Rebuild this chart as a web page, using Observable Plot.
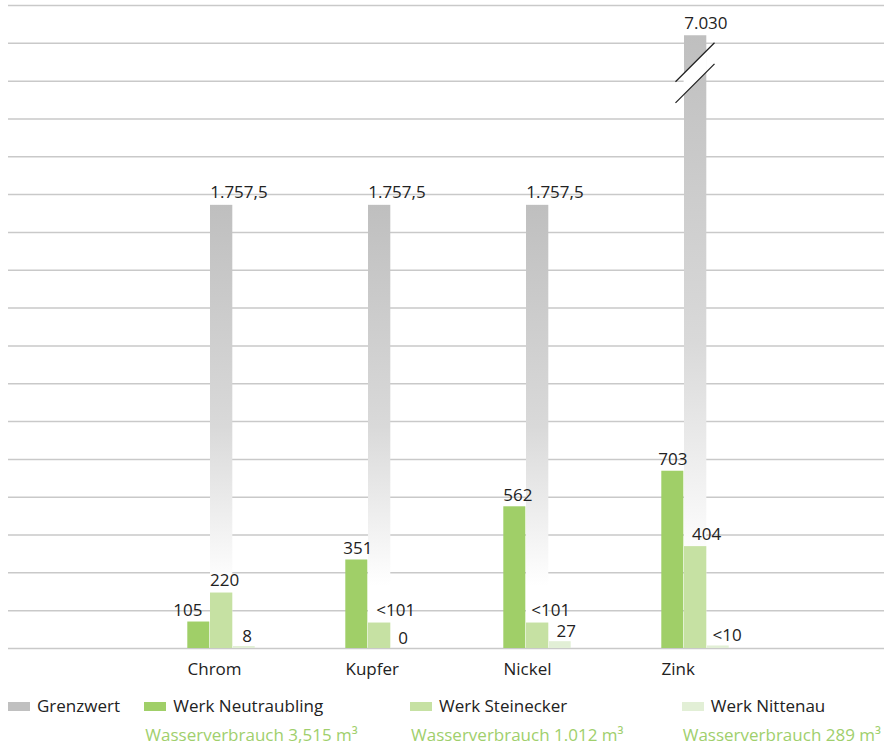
<!DOCTYPE html>
<html><head><meta charset="utf-8">
<script src="https://cdn.jsdelivr.net/npm/d3@7"></script>
<script src="https://cdn.jsdelivr.net/npm/@observablehq/plot@0.6"></script>
<style>
body{margin:0;background:#fff;font-family:"Open Sans",sans-serif;}
#wrap{position:relative;width:884px;height:746px;overflow:hidden;}
#wrap svg{position:absolute;left:0;top:0;}
.lg{position:absolute;font-size:17px;line-height:20px;color:#222;white-space:nowrap;}
.sw{position:absolute;width:22px;height:9px;}
.sub{color:#a0cf6c;}
</style></head><body><div id="wrap"></div>
<script>
// ---- data ----
const categories = ["Chrom", "Kupfer", "Nickel", "Zink"];
const series = ["Grenzwert", "Werk Neutraubling", "Werk Steinecker", "Werk Nittenau"];
const grenzwert = [1757.5, 1757.5, 1757.5, 7030];
const grenzwertLabels = ["1.757,5", "1.757,5", "1.757,5", "7.030"];
const neutraubling = [105, 351, 562, 703];
const neutraublingLabels = ["105", "351", "562", "703"];
const steinecker = [220, 101, 101, 404];
const steineckerLabels = ["220", "<101", "<101", "404"];
const nittenau = [8, 0, 27, 10];
const nittenauLabels = ["8", "0", "27", "<10"];
const consumption = ["", "Wasserverbrauch 3,515 m³", "Wasserverbrauch 1.012 m³", "Wasserverbrauch 289 m³"];
const yMax = 2550, yStep = 150;
const axisBreakCap = 2430;           // Grenzwert above this is drawn broken
const breakLines = [2239, 2323];     // y values of the two break strokes

// ---- styles ----
const colors = {"Grenzwert": "#c0c0c0", "Werk Neutraubling": "#a0cf68", "Werk Steinecker": "#c6e1a3", "Werk Nittenau": "#e2efd6"};
const slotInsets = {"Werk Neutraubling": [45.3, 90.7], "Grenzwert": [68, 67.7], "Werk Steinecker": [68, 67.7], "Werk Nittenau": [91, 45.3]};
const slotCenter = {"Werk Neutraubling": -22.7, "Grenzwert": 0.2, "Werk Steinecker": 0.2, "Werk Nittenau": 22.7};
const labelLift = {"Werk Neutraubling": -6, "Werk Steinecker": -7, "Werk Nittenau": -4.5};
const labelNudge = {
  "Werk Neutraubling": [-11, 1, 3, 0],
  "Werk Steinecker": [3, 16, 13, 11],
  "Werk Nittenau": [3, 1, 6, 9]
};

function rowsFor(name, vals, labels) {
  return categories.map((c, i) => ({cat: c, idx: i, series: name, value: vals[i], label: labels[i]}));
}
const gwRows = rowsFor("Grenzwert", grenzwert, grenzwertLabels);
const nRows = rowsFor("Werk Neutraubling", neutraubling, neutraublingLabels);
const sRows = rowsFor("Werk Steinecker", steinecker, steineckerLabels);
const ttRows = rowsFor("Werk Nittenau", nittenau, nittenauLabels);

const textStyle = {fontFamily: "Open Sans", fontSize: 17, fill: "#222"};

function seriesBars(rows, fill) {
  const [l, r] = slotInsets[rows[0].series];
  return Plot.barY(rows, {x: "cat", y: d => Math.min(d.value, axisBreakCap), fill, insetLeft: l, insetRight: r});
}
function seriesLabels(rows) {
  const name = rows[0].series;
  return rows.map(d => Plot.text([d], {
    x: "cat", y: "value", text: "label", lineAnchor: "bottom", dy: labelLift[name],
    dx: slotCenter[name] + labelNudge[name][d.idx], ...textStyle
  }));
}

const chart = Plot.plot({
  width: 884, height: 685,
  marginTop: 5, marginBottom: 37, marginLeft: 8, marginRight: 0,
  x: {type: "band", domain: categories, range: [140.67, 775.33], padding: 0, axis: null},
  y: {domain: [0, yMax], axis: null},
  marks: [
    Plot.ruleY(d3.range(0, yMax + 1, yStep), {stroke: "#c9c9c9", strokeWidth: 1.5}),
    seriesBars(gwRows, "url(#gwGrad)"),
    seriesBars(nRows, colors["Werk Neutraubling"]),
    seriesBars(sRows, colors["Werk Steinecker"]),
    seriesBars(ttRows, colors["Werk Nittenau"]),
    Plot.text(gwRows, {x: "cat", y: d => Math.min(d.value, axisBreakCap), text: "label", lineAnchor: "bottom", dy: -7, dx: -11.3, textAnchor: "start", ...textStyle}),
    ...seriesLabels(nRows),
    ...seriesLabels(sRows),
    ...seriesLabels(ttRows),
    Plot.text(categories, {x: d => d, frameAnchor: "bottom", dy: 21, lineAnchor: "middle", dx: -34, textAnchor: "start", ...textStyle})
  ]
});

const svg = d3.select(chart);
const grad = svg.insert("defs", ":first-child").append("linearGradient")
  .attr("id", "gwGrad").attr("x1", 0).attr("y1", 0).attr("x2", 0).attr("y2", 1);
grad.append("stop").attr("offset", 0).attr("stop-color", "#bfbfbf");
grad.append("stop").attr("offset", 0.5).attr("stop-color", "#d9d9d9");
grad.append("stop").attr("offset", 0.86).attr("stop-color", "#ffffff");

// axis break on bars exceeding the cap
const X = chart.scale("x"), Y = chart.scale("y");
gwRows.filter(d => d.value > axisBreakCap).forEach(d => {
  const cx = X.apply(d.cat) + X.bandwidth / 2;
  const bx0 = cx - 11.4, bx1 = cx + 11.8;
  const yu = Y.apply(breakLines[1]), yl = Y.apply(breakLines[0]);
  const g = svg.append("g");
  g.append("path")
    .attr("d", `M${bx0},${yu + (cx - bx0)}L${bx1},${yu - (bx1 - cx)}L${bx1},${yl - (bx1 - cx)}L${bx0},${yl + (cx - bx0)}Z`)
    .attr("fill", "#fff");
  [yu, yl].forEach(yc => {
    g.append("line").attr("x1", cx - 19.5).attr("y1", yc + 19.5).attr("x2", cx + 19.5).attr("y2", yc - 19.5)
      .attr("stroke", "#1e1e1e").attr("stroke-width", 1.2);
  });
});

const wrap = document.getElementById("wrap");
wrap.appendChild(chart);

// legend
const legendX = [8, 144.3, 410, 681.7];
series.forEach((s, i) => {
  const sw = document.createElement("div");
  sw.className = "sw";
  sw.style.left = legendX[i] + "px"; sw.style.top = "702px";
  sw.style.background = colors[s];
  wrap.appendChild(sw);
  const t = document.createElement("div");
  t.className = "lg"; t.textContent = s;
  t.style.left = (legendX[i] + 29) + "px"; t.style.top = "696px";
  wrap.appendChild(t);
  if (consumption[i]) {
    const c = document.createElement("div");
    c.className = "lg sub"; c.textContent = consumption[i];
    c.style.left = (legendX[i] + 1) + "px"; c.style.top = "725px";
    wrap.appendChild(c);
  }
});
</script></body></html>
